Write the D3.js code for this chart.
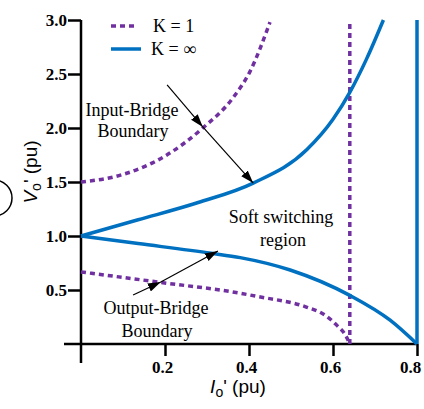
<!DOCTYPE html>
<html>
<head>
<meta charset="utf-8">
<script src="https://cdn.jsdelivr.net/npm/d3@7"></script>
<style>
body { margin: 0; background: #fff; }
</style>
</head>
<body>
<div id="container"></div>
<script>
// Chart size
var svg_width = 424
var svg_height = 409

// --- data ---
// K = infinity, input-bridge boundary (upper blue)
var upperInfI = [0, 0.136, 0.279, 0.41, 0.538, 0.6, 0.64, 0.68, 0.72];
var upperInfV = [1.0, 1.15, 1.31, 1.49, 1.80, 2.08, 2.33, 2.64, 3.0];
// K = infinity, output-bridge boundary (lower blue)
var lowerInfI = [0, 0.136, 0.31, 0.379, 0.498, 0.64, 0.736, 0.8];
var lowerInfV = [1.0, 0.93, 0.84, 0.80, 0.685, 0.45, 0.22, 0];
// K = 1, input-bridge boundary (upper purple)
var upperK1I = [0, 0.1, 0.2, 0.29, 0.362, 0.402, 0.45];
var upperK1V = [1.5, 1.57, 1.74, 2.0, 2.28, 2.52, 2.98];
// K = 1, output-bridge boundary (lower purple)
var lowerK1I = [0, 0.19, 0.379, 0.42, 0.538, 0.58, 0.61, 0.63, 0.64];
var lowerK1V = [0.667, 0.57, 0.47, 0.44, 0.34, 0.27, 0.17, 0.08, 0];
// vertical limits
var limitK1 = 0.64;
var limitInf = 0.8;

var xTicks = [0.2, 0.4, 0.6, 0.8];
var yTicks = [0.5, 1.0, 1.5, 2.0, 2.5, 3.0];

var purple = "#7030A0";
var blue = "#0070C0";
var serif = "Liberation Serif";
var sans = "Liberation Sans";

var svg = d3.select("#container")
    .append("svg")
    .attr("width", svg_width)
    .attr("height", svg_height);

var x = d3.scaleLinear().domain([0, 0.8]).range([81, 417]);
var y = d3.scaleLinear().domain([0, 3]).range([344, 20]);

// arrow marker
svg.append("defs").append("marker")
    .attr("id", "arrow")
    .attr("viewBox", "0 0 12 8")
    .attr("refX", 12).attr("refY", 4)
    .attr("markerUnits", "userSpaceOnUse")
    .attr("markerWidth", 13).attr("markerHeight", 9)
    .attr("orient", "auto")
    .append("path")
    .attr("d", "M0,0 L12,4 L0,8 Z")
    .attr("fill", "#000");

// axes lines (extended past origin like the original)
svg.append("line")
    .attr("x1", 64).attr("x2", 418)
    .attr("y1", y(0)).attr("y2", y(0))
    .attr("stroke", "#000").attr("stroke-width", 2.5);
svg.append("line")
    .attr("x1", x(0)).attr("x2", x(0))
    .attr("y1", y(3)).attr("y2", 363)
    .attr("stroke", "#000").attr("stroke-width", 2.5);

// x ticks
var xAxis = d3.axisBottom(x).tickValues(xTicks).tickSize(12).tickPadding(5)
    .tickFormat(d3.format(".1f"));
var gx = svg.append("g").attr("transform", "translate(0," + y(0) + ")").call(xAxis);
gx.select(".domain").remove();
gx.selectAll(".tick line").attr("stroke", "#000").attr("stroke-width", 2.5);
gx.selectAll(".tick text")
    .attr("font-family", serif).attr("font-weight", "bold")
    .attr("font-size", 17).attr("fill", "#000")
    .attr("dx", function(d){ return d === 0.8 ? -7 : -3; });

// y ticks
var yAxis = d3.axisLeft(y).tickValues(yTicks).tickSize(13).tickPadding(1)
    .tickFormat(d3.format(".1f"));
var gy = svg.append("g").attr("transform", "translate(" + x(0) + ",0)").call(yAxis);
gy.select(".domain").remove();
gy.selectAll(".tick line").attr("stroke", "#000").attr("stroke-width", 2.5);
gy.selectAll(".tick text")
    .attr("font-family", serif).attr("font-weight", "bold")
    .attr("font-size", 17).attr("fill", "#000");

// curves
var line = d3.line()
    .x(function(d){ return x(d[0]); })
    .y(function(d){ return y(d[1]); })
    .curve(d3.curveMonotoneX);

function pairs(a, b){ return a.map(function(v, i){ return [v, b[i]]; }); }

function drawCurve(data, color, dashed){
    svg.append("path")
        .datum(data)
        .attr("d", line)
        .attr("fill", "none")
        .attr("stroke", color)
        .attr("stroke-width", 3.5)
        .attr("stroke-dasharray", dashed ? "5,4" : null);
}

drawCurve(pairs(upperK1I, upperK1V), purple, true);
drawCurve(pairs(lowerK1I, lowerK1V), purple, true);
drawCurve([[limitK1, 0], [limitK1, 3]], purple, true);
drawCurve(pairs(upperInfI, upperInfV), blue, false);
drawCurve(pairs(lowerInfI, lowerInfV), blue, false);
drawCurve([[limitInf, 0], [limitInf, 3]], blue, false);

// annotation arrows (two heads: on K=1 curve and on K=inf curve)
function arrow(p0, p1){
    svg.append("line")
        .attr("x1", x(p0[0])).attr("y1", y(p0[1]))
        .attr("x2", x(p1[0])).attr("y2", y(p1[1]))
        .attr("stroke", "#000").attr("stroke-width", 1.2)
        .attr("marker-end", "url(#arrow)");
}
arrow([0.205, 2.40], [0.29, 2.01]);
arrow([0.29, 2.01], [0.41, 1.49]);
arrow([0.124, 0.454], [0.19, 0.574]);
arrow([0.19, 0.574], [0.326, 0.861]);

// annotation text
function label(tx, ty, str){
    svg.append("text")
        .attr("x", tx).attr("y", ty)
        .attr("text-anchor", "middle")
        .attr("font-family", serif)
        .attr("font-size", 18)
        .attr("fill", "#000")
        .text(str);
}
label(132, 116, "Input-Bridge");
label(133, 137, "Boundary");
label(281, 223, "Soft switching");
label(283, 246, "region");
label(156, 314, "Output-Bridge");
label(157, 337, "Boundary");

// legend
var legend = svg.append("g").attr("font-family", serif);
legend.append("line").attr("x1", 111).attr("x2", 137).attr("y1", 26).attr("y2", 26)
    .attr("stroke", purple).attr("stroke-width", 3.5).attr("stroke-dasharray", "5,4");
legend.append("line").attr("x1", 111).attr("x2", 141).attr("y1", 49).attr("y2", 49)
    .attr("stroke", blue).attr("stroke-width", 3.5);
legend.append("text").attr("x", 153).attr("y", 32).attr("font-size", 18).text("K = 1");
legend.append("text").attr("x", 151).attr("y", 55).attr("font-size", 18).text("K = \u221E");

// axis titles
var xt = svg.append("text")
    .attr("x", 238).attr("y", 393)
    .attr("text-anchor", "middle")
    .attr("font-family", sans)
    .attr("font-size", 19);
xt.append("tspan").attr("font-style", "italic").text("I");
xt.append("tspan").attr("font-size", 14).attr("dy", 4).text("o");
xt.append("tspan").attr("dy", -4).text("' (pu)");

var yt = svg.append("text")
    .attr("transform", "translate(37,172) rotate(-90)")
    .attr("text-anchor", "middle")
    .attr("font-family", sans)
    .attr("font-size", 19);
yt.append("tspan").attr("font-style", "italic").text("V");
yt.append("tspan").attr("font-size", 14).attr("dy", 4).text("o");
yt.append("tspan").attr("dy", -4).text("' (pu)");

// partial circle mark at left edge
svg.append("circle")
    .attr("cx", -6).attr("cy", 198).attr("r", 18)
    .attr("fill", "none").attr("stroke", "#000").attr("stroke-width", 1.5);
</script>
</body>
</html>
